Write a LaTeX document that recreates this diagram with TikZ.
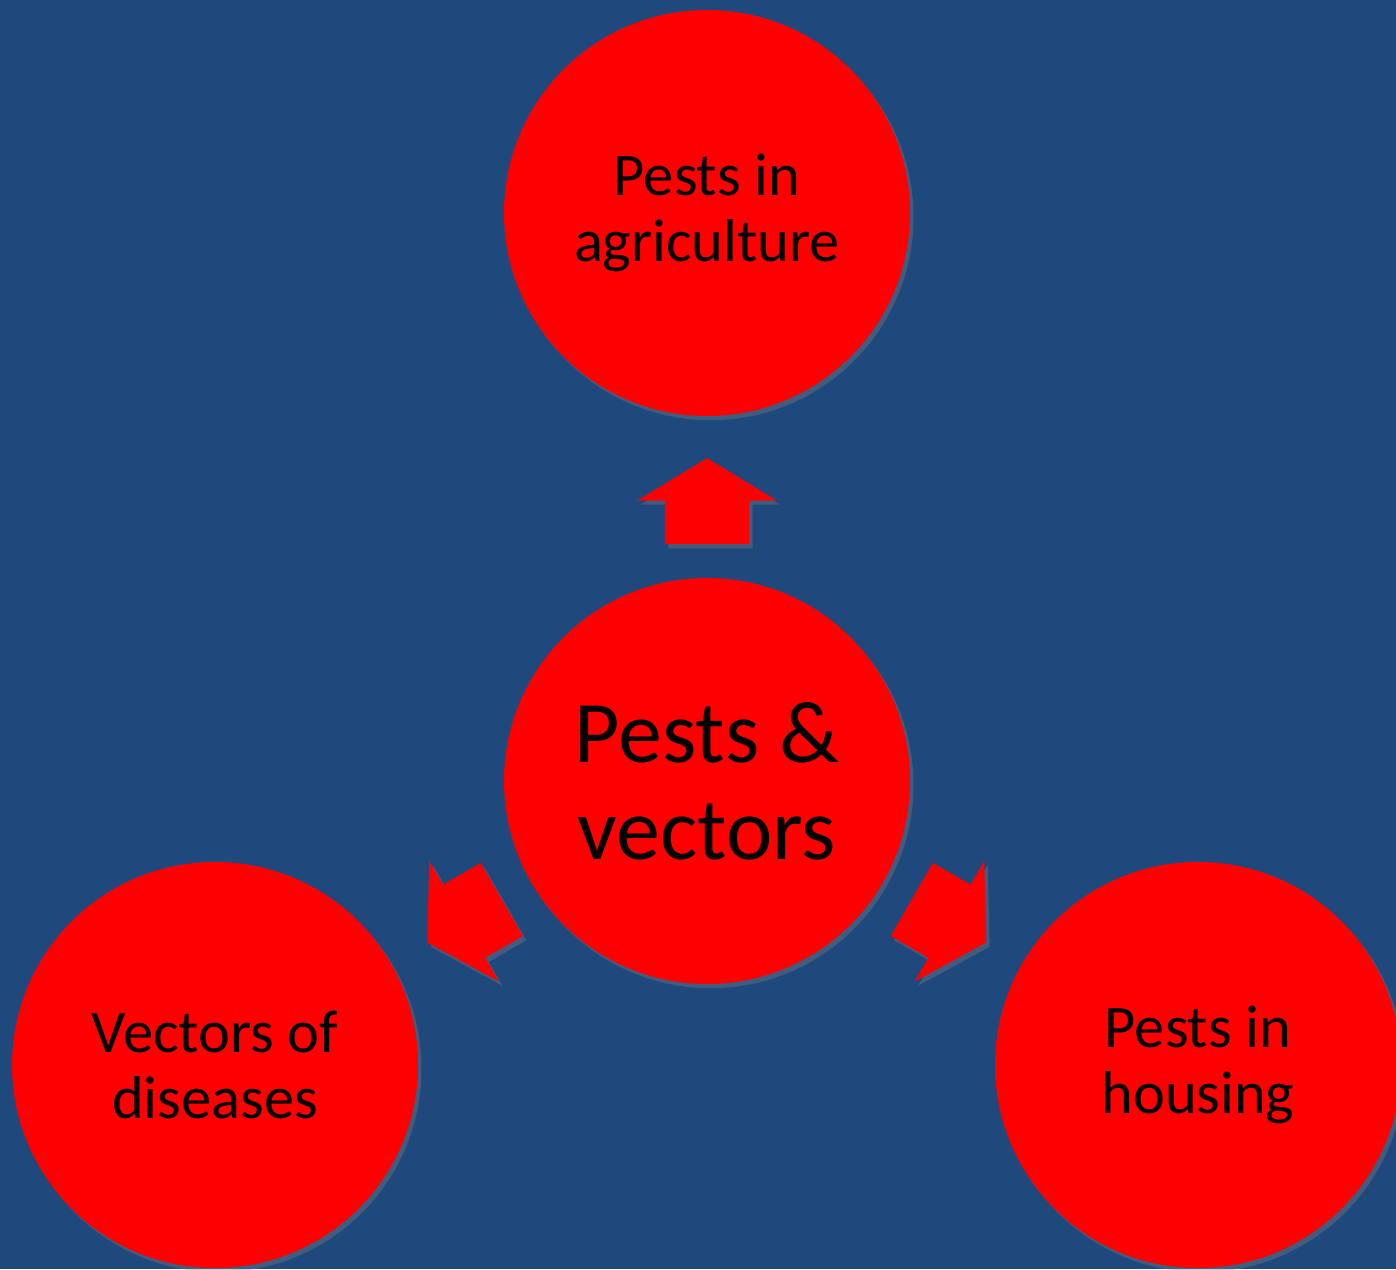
\documentclass[tikz,border=0pt]{standalone}
\usepackage{fontspec}
\setmainfont{Carlito}
\usetikzlibrary{shapes.arrows,shadows,calc}
\definecolor{slideblue}{RGB}{31,73,125}
\definecolor{pestred}{RGB}{255,0,0}

\begin{document}
\begin{tikzpicture}[
    topic/.style={circle,fill=pestred,minimum size=4.06cm,inner sep=0pt,align=center,
      font=\fontsize{17.2}{18.6}\selectfont,
      drop shadow={shadow xshift=1pt,shadow yshift=-1.2pt,opacity=.35}},
    hubtopic/.style={topic,font=\fontsize{25}{27.6}\selectfont},
    blockarrow/.style={single arrow,fill=pestred,inner sep=0pt,anchor=tip,
      text height=.83cm,text depth=0pt,minimum height=.86cm,
      single arrow head extend=.275cm,single arrow tip angle=117.3,
      drop shadow={shadow xshift=1pt,shadow yshift=-1.2pt,opacity=.35}}]
    \fill[slideblue] (0,0) rectangle (13.96,12.69);
    \clip (0,0) rectangle (13.96,12.69);
    % the four circles
    \node[hubtopic] (hub) at (7.07,4.88) {Pests \&\\vectors};
    \node[topic] (agri) at (7.07,10.56) {Pests in\\agriculture};
    \node[topic] (disease) at (2.15,2.04) {Vectors of\\diseases};
    \node[topic] (housing) at (11.98,2.04) {Pests in\\housing};
    % block arrows from the hub
    \node[blockarrow,rotate=90] (toagri) at ($(hub)!.570!(agri)$) {};
    \node[blockarrow,rotate=210] (todisease) at ($(hub)!.570!(disease)$) {};
    \node[blockarrow,rotate=-30] (tohousing) at ($(hub)!.570!(housing)$) {};
\end{tikzpicture}
\end{document}
